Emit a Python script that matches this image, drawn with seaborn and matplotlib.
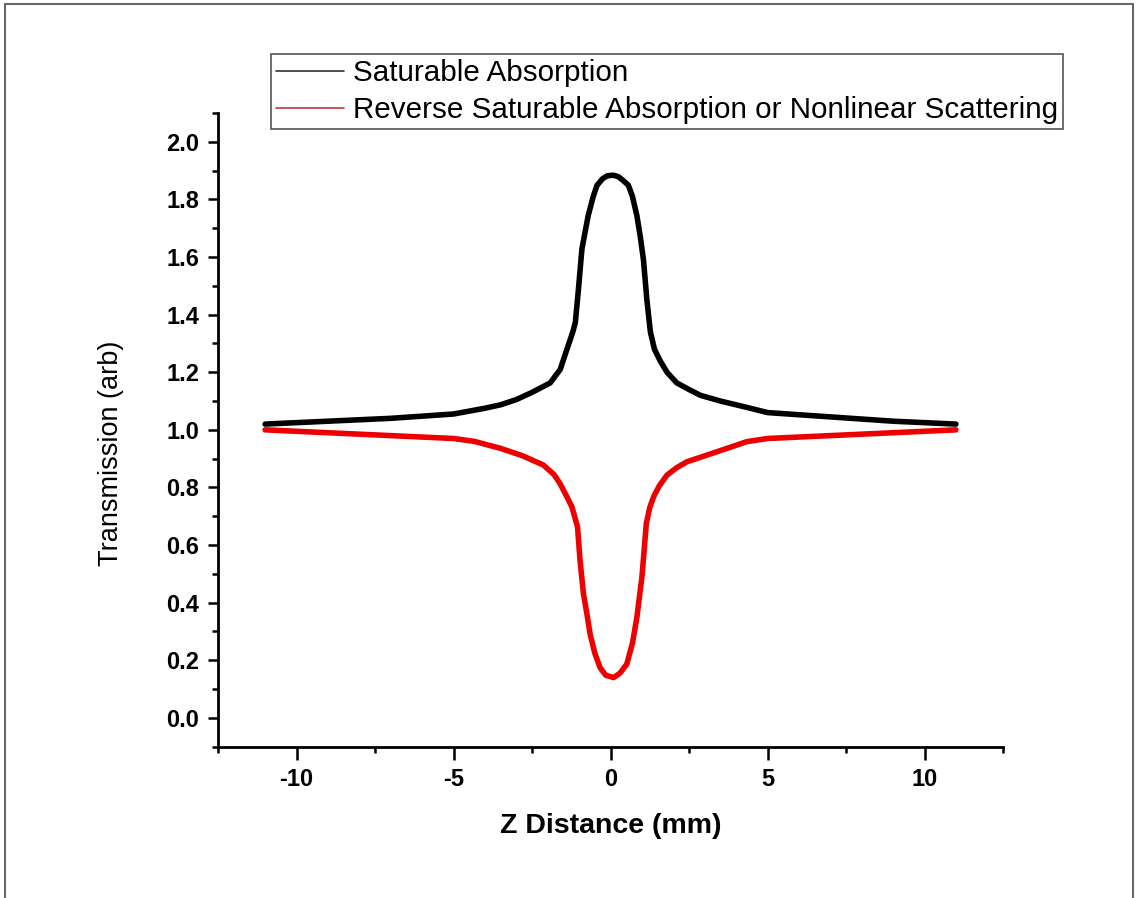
import pandas as pd
import matplotlib.pyplot as plt
import seaborn as sns
from matplotlib.lines import Line2D
from matplotlib.ticker import MultipleLocator, FormatStrFormatter

# ---------- DATA ----------
sa_label = "Saturable Absorption"
rsa_label = "Reverse Saturable Absorption or Nonlinear Scattering"

sa_z = [-11, -9, -7, -5, -4, -3.5, -3, -2.5, -1.92, -1.6, -1.39, -1.2, -1.12, -1.03,
        -0.91, -0.71, -0.55, -0.43, -0.25, -0.1, 0.09, 0.25, 0.4, 0.57, 0.7, 0.84,
        0.95, 1.05, 1.16, 1.27, 1.4, 1.58, 1.8, 2.11, 2.5, 2.86, 3.5, 4.34, 5, 7, 9, 11]
sa_t = [1.02, 1.03, 1.04, 1.055, 1.075, 1.087, 1.105, 1.13, 1.163, 1.21, 1.279, 1.34, 1.373, 1.477,
        1.628, 1.744, 1.81, 1.849, 1.872, 1.882, 1.884, 1.879, 1.866, 1.849, 1.81, 1.744,
        1.67, 1.59, 1.45, 1.34, 1.28, 1.24, 1.2, 1.163, 1.14, 1.12, 1.10, 1.078, 1.06, 1.045, 1.03, 1.02]

rsa_z = [-11, -9, -7, -5, -4.34, -3.51, -2.8, -2.14, -1.8, -1.61, -1.4, -1.23, -1.05,
         -0.97, -0.86, -0.75, -0.65, -0.5, -0.33, -0.15, 0.1, 0.3, 0.52, 0.7, 0.84,
         1.0, 1.07, 1.14, 1.25, 1.37, 1.55, 1.8, 2.1, 2.43, 3.39, 4.34, 5, 7, 9, 11]
rsa_t = [1.0, 0.99, 0.98, 0.97, 0.96, 0.936, 0.91, 0.878, 0.845, 0.814, 0.77, 0.733, 0.663,
         0.547, 0.43, 0.36, 0.291, 0.225, 0.174, 0.148, 0.14, 0.155, 0.187, 0.26, 0.349,
         0.488, 0.58, 0.675, 0.73, 0.767, 0.805, 0.843, 0.868, 0.889, 0.924, 0.959, 0.97, 0.98, 0.99, 1.0]

df = pd.concat([
    pd.DataFrame({"z": sa_z, "t": sa_t, "curve": sa_label}),
    pd.DataFrame({"z": rsa_z, "t": rsa_t, "curve": rsa_label}),
])

# ---------- PLOT ----------
sns.set_style("ticks")
plt.rcParams["font.family"] = ["Liberation Sans", "DejaVu Sans"]
plt.rcParams["axes.unicode_minus"] = False
for key in ["text.color", "axes.labelcolor", "xtick.color", "ytick.color"]:
    plt.rcParams[key] = "black"

fig = plt.figure(figsize=(11.38, 8.98), dpi=100)
ax = fig.add_axes([218 / 1138, 1 - 746.7 / 898, (1003 - 218) / 1138, (746.7 - 113) / 898])

sns.lineplot(data=df, x="z", y="t", hue="curve", palette={sa_label: "black", rsa_label: "#ee0000"},
             linewidth=4, sort=False, estimator=None, legend=False, ax=ax)

ax.set_xlim(-12.5, 12.5)
ax.set_ylim(-0.1, 2.1)
ax.xaxis.set_major_locator(MultipleLocator(5))
ax.xaxis.set_minor_locator(MultipleLocator(2.5))
ax.yaxis.set_major_locator(MultipleLocator(0.2))
ax.yaxis.set_minor_locator(MultipleLocator(0.1))
ax.yaxis.set_major_formatter(FormatStrFormatter("%.1f"))

sns.despine(ax=ax)
for side in ["left", "bottom"]:
    ax.spines[side].set_linewidth(2)
    ax.spines[side].set_color("black")
ax.tick_params(axis="x", which="major", direction="out", length=9, width=1.8, pad=6, labelsize=17)
ax.tick_params(axis="y", which="major", direction="out", length=7.5, width=1.8, pad=6, labelsize=17)
ax.tick_params(which="minor", direction="out", length=4.5, width=1.8)
for lab in ax.get_xticklabels() + ax.get_yticklabels():
    lab.set_fontweight("bold")

ax.set_xlabel("Z Distance (mm)", fontsize=20.5, fontweight="bold", labelpad=16)
ax.set_ylabel("Transmission (arb)", fontsize=19.5)
ax.yaxis.set_label_coords(-0.12, 0.463)

handles = [Line2D([], [], color="#333333", lw=1.2), Line2D([], [], color="#c03a3a", lw=1.2)]
leg = fig.legend(handles, [sa_label, rsa_label], loc="upper left",
                 bbox_to_anchor=(271 / 1138, 1 - 54 / 898), borderaxespad=0,
                 fontsize=21.3, handlelength=2.3, handletextpad=0.3, borderpad=0.17,
                 labelspacing=0.3, fancybox=False, framealpha=1, edgecolor="#555555")
leg.get_frame().set_linewidth(1.2)

# outer frame of the picture
for xs, ys in [([5 / 1138, 5 / 1138], [0, 1 - 4 / 898]),
               ([5 / 1138, 1133 / 1138], [1 - 4 / 898, 1 - 4 / 898]),
               ([1133 / 1138, 1133 / 1138], [0, 1 - 4 / 898])]:
    fig.add_artist(Line2D(xs, ys, color="#666666", lw=1.5, transform=fig.transFigure))

fig.savefig("out.png", dpi=100)
plt.close(fig)
